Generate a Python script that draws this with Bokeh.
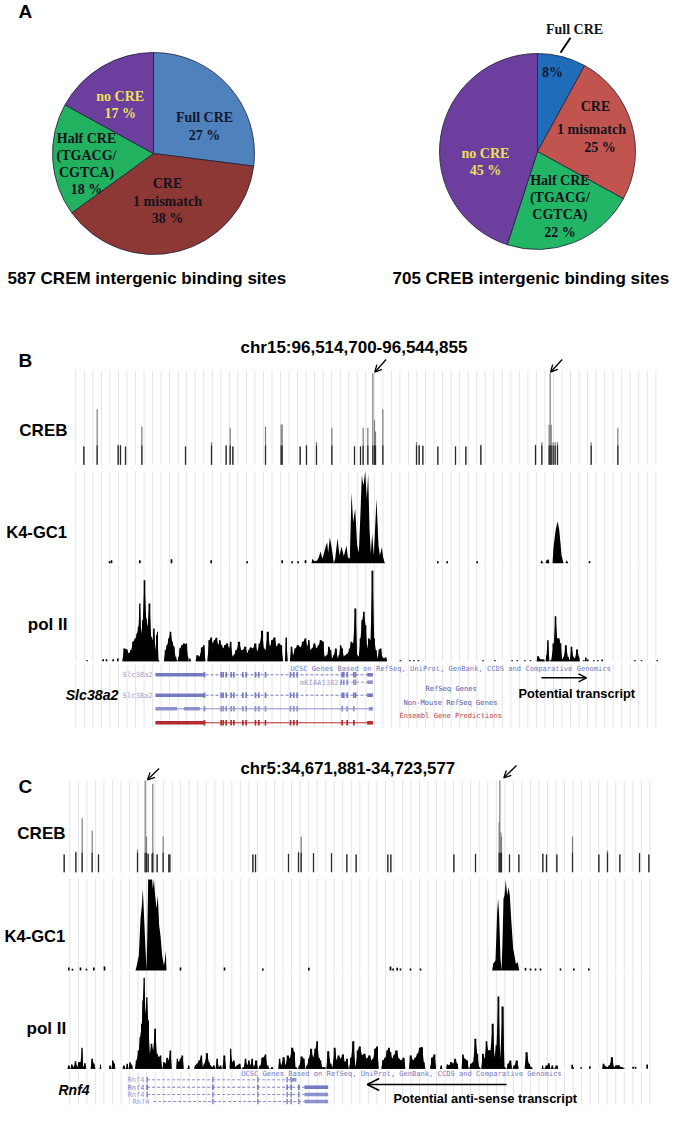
import math
import numpy as np
from bokeh.core.properties import value
from bokeh.embed import file_html
from bokeh.models import Arrow, OpenHead, Range1d
from bokeh.plotting import figure
from bokeh.resources import INLINE

# ---------- Panel A: pie shares (percent) ----------
PIE_NAMES = ["Full CRE", "CRE 1 mismatch", "Half CRE", "no CRE"]
CREM_SHARE = [27, 38, 18, 17]
CREB_SHARE = [8, 25, 22, 45]
CREM_COLORS = ["#4F81BD", "#8E3836", "#22B15F", "#6C3F9E"]
CREB_COLORS = ["#1F6DB8", "#C25450", "#22B566", "#6C3F9E"]
CREM_CAPTION = "587 CREM intergenic binding sites"
CREB_CAPTION = "705 CREB intergenic binding sites"

# Track readings: (position, signal) in units of a third of a screen pixel.
B_CREB = [(250,55),(290,167),(353,60),(360,60),(375,55),(424,115),(555,55),(633,68),(677,58),(689,111),
          (697,55),(795,115),(842,121),(845,121),(899,55),(918,60),(948,68),(994,111),(1062,55),(1080,55),
          (1088,111),(1102,111),(1117,275),(1122,135),(1125,100),(1147,167),(1248,68),(1256,60),(1267,57),(1312,55),
          (1365,55),(1396,55),(1441,60),(1605,60),(1624,68),(1646,120),(1649,275),(1652,120),(1658,68),(1664,68),
          (1671,68),(1772,68),(1852,111)]
C_CREB = [(191,53),(226,62),(245,162),(275,125),(294,53),(411,67),(434,275),(438,107),(443,55),(455,55),
          (457,265),(470,53),(488,107),(505,53),(508,53),(757,53),(765,53),(864,55),(894,62),(902,107),
          (939,57),(993,57),(1039,53),(1067,53),(1162,53),(1171,53),(1360,53),(1425,55),(1496,150),(1498,275),
          (1501,120),(1503,107),(1527,53),(1555,53),(1627,55),(1638,53),(1669,53),(1716,107),(1795,53),(1821,65),
          (1858,53),(1917,57),(1945,53)]
B_K4 = [(933,0),(936,13),(942,6),(950,8),(955,18),(960,35),(966,13),(975,48),(980,63),(983,31),(988,78),
        (994,43),(1000,0),(1004,13),(1011,75),(1017,23),(1023,50),(1030,21),(1038,53),(1042,18),(1048,13),
        (1053,211),(1058,123),(1064,163),(1070,53),(1075,31),(1080,153),(1084,263),(1089,233),(1094,275),
        (1099,193),(1103,268),(1107,103),(1111,28),(1115,88),(1120,23),(1128,193),(1134,53),(1138,23),
        (1144,48),(1148,18),(1153,0),(1620,0),(1623,9),(1629,0),(1635,0),(1638,9),(1644,12),(1647,0),
        (1656,0),(1659,48),(1665,96),(1671,126),(1676,102),(1680,60),(1683,24),(1686,12),(1689,0),
        (1695,0),(1698,9),(1704,0)]
B_K4_SMALL = [(327,6),(333,9),(418,9),(513,12),(632,9),(740,6),(845,9),(875,6),(893,6),(915,9),
              (1312,6),(1340,6),(1430,6),(1767,6)]
C_K4 = [(405,0),(410,20),(415,45),(420,155),(424,195),(427,245),(431,155),(435,65),(438,0),(440,85),(443,273),
        (455,273),(457,245),(460,273),(464,225),(468,185),(472,225),(476,135),(480,105),(485,45),(490,15),
        (493,30),(496,60),(498,0),(1475,0),(1478,20),(1485,30),(1490,175),(1493,215),(1496,165),(1500,35),
        (1503,0),(1506,85),(1509,215),(1512,225),(1516,270),(1520,225),(1524,250),(1528,225),(1532,155),
        (1538,65),(1542,45),(1546,20),(1552,25),(1556,0)]
C_K4_SMALL = [(205,9),(216,5),(240,9),(258,5),(280,9),(312,12),(540,9),(672,9),(787,6),(925,8),(1170,12),
              (1178,6),(1190,8),(1200,6),(1230,6),(1260,6),(1575,8),(1590,6),(1605,6),(1620,6),(1680,6),
              (1720,6),(1765,6)]
B_POL2 = [(365,0),(372,38),(378,35),(385,23),(392,33),(398,58),(405,68),(410,83),(414,103),(418,173),(422,83),
          (427,123),(432,243),(437,128),(441,103),(447,173),(452,73),(456,63),(460,98),(465,33),(468,78),(471,88),
          (474,3),(478,0),(490,0),(495,33),(500,48),(505,68),(510,88),(515,58),(520,43),(525,13),(530,0),(535,13),
          (538,38),(545,48),(550,53),(555,51),(558,53),(562,13),(565,0),(568,8),(572,0),(585,0),(590,18),(597,13),
          (605,41),(610,48),(615,0),(620,0),(627,63),(632,71),(637,53),(642,63),(648,70),(653,48),(658,63),(663,48),
          (668,38),(673,48),(680,53),(686,38),(690,58),(696,13),(700,18),(708,33),(716,58),(722,33),(726,33),(735,43),
          (740,23),(745,33),(750,41),(757,38),(765,53),(770,28),(778,53),(785,91),(790,38),(795,33),(802,88),(808,43),
          (815,63),(822,71),(828,43),(835,53),(842,48),(848,0),(853,0),(857,71),(862,0),(868,0),(873,43),(878,18),
          (885,38),(892,48),(900,41),(908,58),(915,68),(920,43),(925,63),(930,33),(935,38),(942,53),(948,38),(955,48),
          (960,63),(968,58),(972,13),(980,18),(985,43),(990,33),(995,8),(1000,18),(1006,38),(1012,8),(1016,18),
          (1020,48),(1025,38),(1030,13),(1035,18),(1042,23),(1048,38),(1052,58),(1058,53),(1065,158),(1070,18),
          (1075,13),(1080,68),(1085,123),(1090,148),(1095,108),(1100,38),(1105,68),(1110,63),(1116,271),(1121,68),
          (1126,33),(1132,8),(1136,35),(1141,38),(1145,13),(1150,8),(1156,11),(1160,0),(1608,0),(1612,15),(1620,5),
          (1628,5),(1635,0),(1638,18),(1642,63),(1647,0),(1652,3),(1660,53),(1665,135),(1670,68),(1675,68),(1680,53),
          (1685,5),(1690,13),(1696,48),(1702,13),(1708,3),(1713,43),(1718,13),(1723,8),(1730,35),(1735,13),(1738,0)]
B_POL2_SMALL = [(260,3),(308,6),(318,6),(338,6),(352,8),(1200,3),(1228,3),(1240,3),(1254,3),(1448,3),(1483,3),
                (1535,3),(1550,3),(1573,3),(1590,3),(1750,3),(1756,11),(1762,5),(1780,3),(1792,3),(1805,5),
                (1903,3),(1923,3),(1970,3)]
C_POL2 = [(200,0),(205,10),(210,0),(213,13),(220,5),(225,23),(230,5),(235,20),(240,20),(245,63),(248,5),(253,17),
          (258,0),(270,0),(275,30),(280,15),(285,0),(297,0),(300,13),(303,0),(325,0),(328,10),(333,0),(336,25),
          (342,15),(345,0),(365,0),(370,10),(376,0),(380,15),(385,0),(388,20),(393,12),(398,0),(403,0),(408,25),
          (415,55),(419,95),(424,135),(427,205),(431,273),(435,165),(439,215),(443,145),(448,45),(453,75),(458,55),
          (464,120),(469,45),(475,35),(480,40),(485,0),(490,20),(495,15),(500,33),(504,25),(510,55),(514,0),(527,0),
          (530,30),(535,20),(540,30),(546,40),(550,0),(560,0),(565,10),(568,0),(580,0),(585,10),(590,15),(597,25),
          (603,40),(607,5),(612,15),(620,47),(625,20),(630,10),(635,5),(640,10),(645,0),(650,30),(655,5),(660,10),
          (665,0),(672,40),(677,0),(687,0),(690,60),(695,20),(700,25),(705,5),(710,10),(718,15),(722,0),(730,5),
          (735,30),(740,10),(745,25),(750,10),(755,30),(760,5),(767,25),(773,0),(780,10),(785,33),(790,35),(795,43),
          (800,10),(808,0),(815,5),(820,0),(833,0),(837,30),(842,10),(850,35),(855,10),(862,40),(868,30),(875,63),
          (882,50),(885,5),(892,0),(897,10),(903,37),(910,30),(915,0),(920,10),(925,30),(932,60),(938,33),(945,60),
          (950,83),(955,33),(960,25),(965,5),(973,5),(977,0),(983,53),(990,15),(996,5),(1003,63),(1008,25),(1014,40),
          (1020,30),(1028,43),(1033,20),(1040,30),(1045,0),(1052,33),(1058,83),(1065,5),(1072,55),(1077,67),(1085,40),
          (1092,45),(1098,30),(1108,40),(1112,25),(1118,30),(1124,60),(1130,67),(1135,0),(1142,0),(1147,25),(1155,33),
          (1160,55),(1166,63),(1170,50),(1175,30),(1180,40),(1188,55),(1195,30),(1202,25),(1210,33),(1215,0),(1225,0),
          (1230,40),(1238,25),(1245,33),(1252,45),(1258,63),(1265,65),(1270,20),(1275,0),(1288,0),(1295,33),(1302,43),
          (1307,0),(1318,0),(1322,10),(1326,0),(1337,0),(1340,13),(1346,10),(1351,20),(1358,15),(1364,30),(1370,15),
          (1374,0),(1383,0),(1387,43),(1392,30),(1400,25),(1405,0),(1412,15),(1418,20),(1425,90),(1430,45),(1436,5),
          (1442,0),(1447,45),(1453,30),(1458,83),(1463,55),(1470,55),(1477,135),(1482,35),(1488,70),(1494,217),
          (1499,30),(1507,187),(1512,5),(1518,0),(1523,15),(1530,25),(1535,0),(1542,10),(1549,25),(1555,0),(1572,0),
          (1578,50),(1585,15),(1592,5),(1598,0),(1623,0),(1626,10),(1630,0),(1640,10),(1645,17),(1650,0),(1656,10),
          (1660,0),(1670,10),(1673,0),(1805,0),(1808,15),(1815,8),(1820,5),(1827,10),(1835,35),(1840,5),(1847,10),
          (1855,10),(1862,5),(1875,0)]
C_POL2_SMALL = [(1715,12),(1718,5),(1742,5),(1768,8),(1898,6),(1905,6),(1940,13)]

# Browser furniture (transcripts, exons) in the same position units
B_EXONS = [612,662,668,677,692,700,727,737,765,775,795,870,880,890,1025,1030,1040,1060,1065]
B_EXONS_ALT = [612,662,668,677,692,700,727,737,765,775,795,870,880,890,1025,1040,1060]
B_EXONS_SHORT = [1022,1030,1040,1060,1065]
C_EXONS = [440,637,772,860,872,895]
C_EXONS_LATE = [637,772,860,872,895]

TITLE_B = "chr15:96,514,700-96,544,855"
TITLE_C = "chr5:34,671,881-34,723,577"
UCSC_TEXT = "UCSC Genes Based on RefSeq, UniProt, GenBank, CCDS and Comparative Genomics"

# ---------- Canvas: one unit of the main ranges is one screen pixel ----------
X0, X1, Y0, Y1 = 0, 680, 0, 1125
p = figure(width=X1 - X0, height=Y1 - Y0, x_range=Range1d(X0, X1), y_range=Range1d(Y1, Y0),
           output_backend="svg", toolbar_location=None, x_axis_location=None, y_axis_location=None,
           min_border=0, outline_line_color=None, background_fill_color="white")
p.grid.visible = False
p.extra_x_ranges["trk"] = Range1d(X0 * 3, X1 * 3)


def track_range(name, baseline):
    """A y range in which signal 0 falls on the baseline of a track, 3 units a pixel."""
    p.extra_y_ranges[name] = Range1d((baseline - Y1) * 3, (baseline - Y0) * 3)
    return name


def text(x, y, s, size, font="Liberation Sans", color="black", style="bold", align="left"):
    p.text(x=[x], y=[y], text=[s], text_font=value(font), text_font_size=value(f"{size}px"),
           text_font_style=style, text_color=color, text_align=align, text_baseline="middle")


def pie(cx, cy, r, shares, colors):
    f = np.cumsum([0] + shares) / sum(shares)
    start = math.pi / 2 - 2 * math.pi * f[:-1]
    end = math.pi / 2 - 2 * math.pi * f[1:]
    p.wedge(x=[cx] * len(shares), y=[cy] * len(shares), radius=r, start_angle=start, end_angle=end,
            direction="clock", fill_color=colors, line_color="#20203A", line_width=0.8)


# ---------- Vertical browser rules (drawn first, behind everything) ----------
def rules(start, stop, spans):
    xs = np.arange(start, stop + 0.1, 8.53)
    for top, bottom in spans:
        p.segment(x0=xs, y0=[top] * len(xs), x1=xs, y1=[bottom] * len(xs), line_color="#E3E3EE", line_width=1)


rules(75.3, 658, [(370, 464.3), (471, 562.7), (563.5, 660.7), (664, 727)])
rules(69.3, 652, [(780, 871.7), (878, 969), (970, 1068.3), (1071, 1104)])

pie(153, 153, 101, CREM_SHARE, CREM_COLORS)
pie(537, 151, 98, CREB_SHARE, CREB_COLORS)

SERIF = "Liberation Serif"
DARK = "#12121C"
YEL = "#EFE05A"
for x, y, s, c in [(204, 117.3, "Full CRE", "#0E1830"), (204, 135, "27 %", "#0E1830"),
                   (167, 183, "CRE", DARK), (167, 200.7, "1 mismatch", DARK), (167, 217.7, "38 %", DARK),
                   (86, 137.7, "Half CRE", DARK), (86, 155, "(TGACG/", DARK), (86, 172, "CGTCA)", DARK),
                   (86, 189, "18 %", DARK), (119.7, 96.3, "no CRE", YEL), (119.7, 113.3, "17 %", YEL),
                   (574, 29.3, "Full CRE", DARK), (552, 72.3, "8%", "#0E1830"), (595, 106, "CRE", DARK),
                   (591, 129, "1 mismatch", DARK), (599.6, 146.7, "25 %", DARK), (559.4, 180, "Half CRE", DARK),
                   (559.4, 197.3, "(TGACG/", DARK), (559.4, 214.3, "CGTCA)", DARK), (559.4, 231.7, "22 %", DARK),
                   (485, 152.7, "no CRE", YEL), (485, 169.7, "45 %", YEL)]:
    text(x, y, s, 14, font=SERIF, color=c, align="center")
p.segment(x0=[570], y0=[37.3], x1=[560], y1=[52.3], line_color="black", line_width=2)

text(7, 278, CREM_CAPTION, 17)
text(392, 278, CREB_CAPTION, 17)
text(18, 11, "A", 19)
text(18, 360, "B", 19)
text(18, 786, "C", 19)
text(240, 346.7, TITLE_B, 17)
text(240, 767.5, TITLE_C, 16.8)
for y, s, x, size in [(429.5, "CREB", 67, 17), (532, "K4-GC1", 66.5, 16.6), (624, "pol II", 67, 17),
                      (832.7, "CREB", 65, 17), (935.7, "K4-GC1", 64.8, 16.6), (1027.7, "pol II", 65.7, 17)]:
    text(x, y, s, size, align="right")
text(118, 694, "Slc38a2", 14.2, style="bold italic", align="right")
text(58, 1089.3, "Rnf4", 14, style="bold italic")
text(518, 692.7, "Potential transcript", 12.8)
text(393, 1098, "Potential anti-sense transcript", 12.8)


def arrow(x0, y0, x1, y1, size=7, lw=1.3):
    p.add_layout(Arrow(end=OpenHead(size=size, line_width=lw, line_color="black"),
                       x_start=x0, y_start=y0, x_end=x1, y_end=y1, line_width=lw, line_color="black"))


arrow(385.6, 359, 374.3, 371.7)
arrow(561.7, 359, 550, 371.7)
arrow(158.6, 768, 147, 779.3)
arrow(516, 765, 503.3, 777.3)
arrow(541, 677.3, 586, 677.3, size=8, lw=1.5)
arrow(506, 1084, 366.7, 1084, size=12, lw=1.5)


# ---------- Signal tracks ----------
def unzip(pairs):
    a = np.array(pairs, dtype=float)
    return a[:, 0], a[:, 1]


def spikes(pairs, baseline, name):
    yr = track_range(name, baseline)
    x, h = unzip(pairs)
    p.vbar(x=x, top=h, bottom=0, width=3.6, fill_color="#7C7C7C", line_color=None,
           x_range_name="trk", y_range_name=yr)
    p.vbar(x=x, top=np.minimum(h, 58), bottom=0, width=3.6, fill_color="#2A2A2A", line_color=None,
           x_range_name="trk", y_range_name=yr)


def profile(pairs, small, baseline, name, stepped=False):
    yr = track_range(name, baseline)
    x, h = unzip(pairs)
    p.varea(x=x, y1=np.zeros_like(h), y2=h, fill_color="black", x_range_name="trk", y_range_name=yr)
    if stepped:
        p.varea_step(x=x, y1=np.zeros_like(h), y2=h, step_mode="center", fill_color="black",
                     x_range_name="trk", y_range_name=yr)
    x, h = unzip(small)
    p.vbar(x=x, top=h, bottom=0, width=5, fill_color="black", line_color=None, x_range_name="trk", y_range_name=yr)


spikes(B_CREB, 464.3, "b_creb")
profile(B_K4, B_K4_SMALL, 562.7, "b_k4")
profile(B_POL2, B_POL2_SMALL, 660.7, "b_pol", stepped=True)
spikes(C_CREB, 871.7, "c_creb")
profile(C_K4, C_K4_SMALL, 970, "c_k4")
profile(C_POL2, C_POL2_SMALL, 1068.3, "c_pol", stepped=True)


# ---------- Gene models ----------
def gene(y, x0, x1, exons, blocks, color, dash="solid", ex_h=2.8, blk_h=1.8):
    p.segment(x0=[x0], y0=[y], x1=[x1], y1=[y], line_color=color, line_width=1, line_dash=dash, x_range_name="trk")
    ex = np.array(exons, dtype=float)
    p.vbar(x=ex, top=y - ex_h, bottom=y + ex_h, width=5, fill_color=color, line_color=None, x_range_name="trk")
    for a, b in blocks:
        p.quad(left=a, right=b, top=y - blk_h, bottom=y + blk_h, fill_color=color, line_color=None, x_range_name="trk")


BLUE = "#7579BF"
PALE = "#8D91CC"
RED = "#B52A2E"
gene(674.3, 465, 1117, B_EXONS, [(465, 612), (1100, 1117)], BLUE, dash="3 2")
gene(681.7, 1022, 1117, B_EXONS_SHORT, [(1100, 1117)], PALE, dash="3 2")
gene(694.7, 465, 1117, B_EXONS, [(465, 612), (1100, 1117)], BLUE, dash="3 2")
gene(708.3, 465, 1117, B_EXONS_ALT, [(465, 530), (550, 598), (1105, 1117)], PALE)
gene(722.3, 465, 1117, B_EXONS_ALT, [(465, 612), (1100, 1117)], RED)

gene(1079.3, 440, 888, C_EXONS[:-1], [(870, 888)], PALE, dash="3 2")
gene(1086.7, 440, 983, C_EXONS, [(912, 983)], BLUE, dash="3 2")
gene(1094, 440, 983, C_EXONS, [(912, 983)], PALE, dash="3 2")
gene(1101, 458, 983, C_EXONS_LATE, [(912, 983)], PALE, dash="3 2")

MONO = "DejaVu Sans Mono"
for x, y, s, c, a, size in [(290, 667.7, UCSC_TEXT, BLUE, "left", 7.1), (152, 674.3, "Slc38a2", "#9A9DD0", "right", 7.1),
                            (338, 681.7, "mKIAA1382", "#9A9DD0", "right", 7.1), (152, 694.7, "Slc38a2", "#9A9DD0", "right", 7.1),
                            (425, 688.3, "RefSeq Genes", "#5558A8", "left", 7.1), (403, 701.7, "Non-Mouse RefSeq Genes", "#5558A8", "left", 7.1),
                            (399, 715.3, "Ensembl Gene Predictions", "#B84448", "left", 7.1),
                            (240.7, 1073.3, UCSC_TEXT, BLUE, "left", 7.1), (144, 1079.3, "Rnf4", "#9A9DD0", "right", 7.1),
                            (144, 1086.7, "Rnf4", BLUE, "right", 7.1), (144, 1094, "Rnf4", "#9A9DD0", "right", 7.1),
                            (149, 1101, "Rnf4", "#9A9DD0", "right", 7.1)]:
    text(x, y, s, size, font=MONO, color=c, style="normal", align=a)

open("out.html", "w").write(file_html(p, INLINE))
